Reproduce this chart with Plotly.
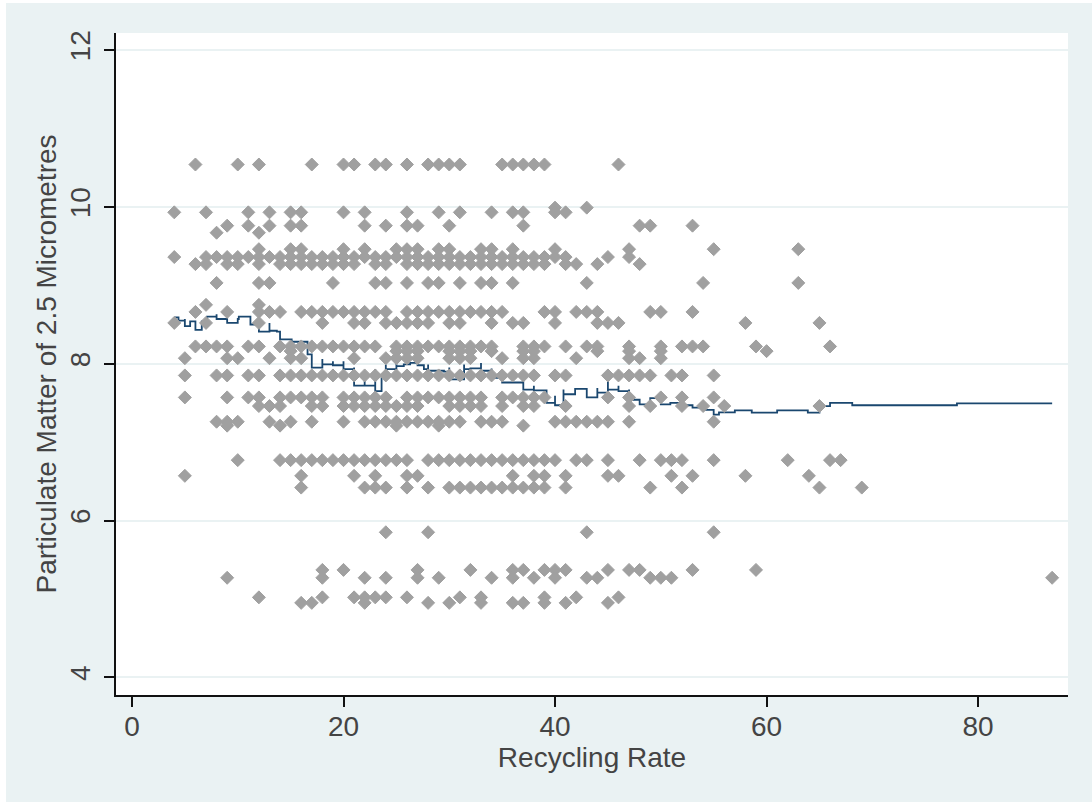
import plotly.graph_objects as go

# ---- data -----------------------------------------------------------------
x_label = "Recycling Rate"
y_label = "Particulate Matter of 2.5 Micrometres"
x_ticks = [0, 20, 40, 60, 80]
y_ticks = [4, 6, 8, 10, 12]

# Recycling rates observed at each level of PM2.5
rows = {
    10.54: [6, 10, 12, 17, 20, 21, 23, 24, 26, 28, 29, 30, 31, 35, 36, 37, 38, 39, 46],
    9.99: [40, 43],
    9.93: [4, 7, 11, 13, 15, 16, 20, 22, 26, 29, 31, 34, 36, 37, 40, 41],
    9.76: [9, 11, 13, 15, 16, 22, 24, 26, 27, 30, 37, 48, 49, 53],
    9.67: [8, 12],
    9.46: [12, 15, 16, 20, 22, 25, 26, 27, 29, 30, 33, 34, 36, 40, 47, 55, 63],
    9.36: [4, 7, 8, 9, 10, 11, 12, 13, 14, 15, 16, 17, 18, 19, 20, 21, 22, 23, 24, 25, 26,
           27, 28, 29, 30, 31, 32, 33, 34, 35, 36, 37, 38, 39, 40, 41, 45, 47],
    9.27: [6, 7, 9, 10, 12, 14, 15, 16, 17, 18, 19, 20, 21, 23, 24, 26, 27, 28, 29, 30, 31,
           32, 33, 34, 35, 36, 37, 38, 39, 41, 42, 44, 48],
    9.03: [8, 12, 13, 19, 23, 24, 26, 28, 29, 31, 33, 34, 36, 43, 54, 63],
    8.75: [7, 12],
    8.66: [6, 9, 12, 13, 14, 16, 17, 18, 19, 20, 21, 22, 23, 24, 26, 27, 28, 29, 30, 31, 32,
           33, 34, 35, 39, 40, 42, 43, 44, 49, 50, 53],
    8.52: [4, 7, 12, 18, 21, 22, 24, 25, 26, 27, 28, 30, 31, 34, 36, 37, 40, 44, 45, 46, 58, 65],
    8.22: [6, 7, 8, 9, 11, 12, 14, 15, 16, 17, 18, 19, 20, 21, 22, 23, 25, 26, 27, 28, 29,
           30, 31, 32, 33, 34, 37, 38, 39, 41, 43, 44, 47, 50, 52, 53, 54, 59, 66],
    8.16: [15, 25, 26, 27, 30, 31, 32, 34, 37, 38, 44, 47, 50, 60],
    8.07: [5, 9, 10, 13, 15, 16, 21, 24, 25, 26, 27, 30, 31, 32, 35, 37, 38, 42, 47, 48, 50],
    7.85: [5, 8, 9, 11, 12, 14, 15, 16, 17, 18, 19, 20, 21, 22, 23, 24, 25, 26, 27, 28, 29,
           30, 31, 32, 33, 34, 35, 36, 37, 38, 40, 41, 45, 46, 47, 48, 49, 51, 52, 55],
    7.57: [5, 9, 11, 12, 14, 15, 16, 17, 18, 20, 21, 22, 23, 24, 26, 27, 28, 29, 30, 31, 32,
           33, 35, 36, 37, 38, 39, 45, 47, 50, 52, 55],
    7.46: [12, 13, 14, 17, 18, 20, 21, 22, 23, 24, 25, 26, 27, 30, 31, 32, 33, 35, 37, 38,
           41, 47, 49, 52, 54, 56, 65],
    7.26: [8, 9, 10, 13, 15, 17, 20, 22, 23, 24, 25, 26, 27, 28, 29, 30, 31, 33, 34, 35, 40,
           41, 42, 43, 44, 45, 47, 55],
    7.21: [9, 14, 25, 29, 37],
    6.77: [10, 14, 15, 16, 17, 18, 19, 20, 21, 22, 23, 24, 25, 26, 28, 29, 30, 31, 32, 33,
           34, 35, 36, 37, 38, 39, 40, 42, 43, 45, 48, 50, 51, 52, 55, 62, 66, 67],
    6.57: [5, 16, 21, 23, 26, 27, 36, 38, 39, 41, 45, 46, 51, 53, 58, 64],
    6.42: [16, 22, 23, 24, 26, 28, 30, 31, 32, 33, 34, 35, 36, 37, 38, 39, 41, 49, 52, 65, 69],
    5.85: [24, 28, 43, 55],
    5.37: [18, 20, 27, 32, 36, 37, 39, 40, 41, 45, 47, 48, 53, 59],
    5.27: [9, 18, 22, 24, 27, 29, 34, 36, 38, 40, 43, 44, 49, 50, 51, 87],
    5.02: [12, 18, 21, 22, 23, 24, 26, 31, 33, 39, 42, 46],
    4.95: [16, 17, 22, 28, 30, 33, 36, 37, 39, 41, 45],
}

# Smoothed (lowess) curve; repeated x values are tied observations
line_x = [4, 4.4, 5, 5, 5.5, 6, 6, 6.6, 7.1, 8, 8, 9, 9, 10, 10.1, 11, 11.2, 12, 12, 13, 13,
          13.7, 14, 14, 15.1, 16.6, 16.6, 17, 17, 18, 18, 19, 19, 20, 20, 21, 21, 21, 22, 22,
          23, 23, 23, 23.6, 24, 24, 24.6, 25, 25, 25.7, 26.3, 27, 27.6, 28, 28, 29.5, 30, 30,
          31.4, 31.4, 32, 33, 33, 34, 34, 35, 36, 37, 37, 38, 38, 39.2, 40, 40, 40.8, 40.8,
          41.9, 43, 43, 44, 44, 45, 45, 46, 46, 47, 47, 48, 48, 49, 50, 50, 50.9, 51.9, 53,
          54, 55, 55.5, 57, 57, 58.3, 58.6, 61, 61, 63.5, 63.9, 65, 66, 68, 68.1, 78, 78, 87]
line_y = [8.59, 8.55, 8.57, 8.48, 8.54, 8.52, 8.43, 8.54, 8.60, 8.63, 8.57, 8.57, 8.52, 8.57,
          8.60, 8.60, 8.50, 8.46, 8.41, 8.52, 8.42, 8.41, 8.40, 8.31, 8.28, 8.18, 8.12, 7.99,
          7.95, 8.06, 7.99, 8.03, 7.98, 8.03, 7.93, 7.95, 7.78, 7.72, 7.78, 7.72, 7.93, 7.76,
          7.65, 7.83, 7.99, 7.93, 7.93, 8.06, 7.97, 7.99, 8.01, 7.98, 7.93, 7.99, 7.91, 7.90,
          7.95, 7.80, 7.99, 7.93, 7.94, 8.01, 7.91, 7.94, 7.82, 7.76, 7.76, 7.80, 7.67, 7.72,
          7.66, 7.50, 7.59, 7.47, 7.67, 7.61, 7.68, 7.67, 7.57, 7.69, 7.63, 7.78, 7.67, 7.72,
          7.65, 7.67, 7.54, 7.54, 7.48, 7.56, 7.54, 7.48, 7.50, 7.47, 7.44, 7.41, 7.35, 7.38,
          7.38, 7.405, 7.405, 7.375, 7.375, 7.405, 7.405, 7.375, 7.46, 7.50, 7.50, 7.47, 7.47,
          7.495, 7.495]

pts_x = [x for level, xs in rows.items() for x in xs]
pts_y = [level for level, xs in rows.items() for _ in xs]

# ---- figure ---------------------------------------------------------------
BG = "#eaf2f3"
font = dict(family="Liberation Sans, Arial, sans-serif", size=28, color="#444444")

fig = go.Figure()
fig.add_trace(go.Scatter(x=line_x, y=line_y, mode="lines",
                         line=dict(color="#1a476f", width=1.8, shape="hv"), hoverinfo="skip"))
fig.add_trace(go.Scatter(x=pts_x, y=pts_y, mode="markers",
                         marker=dict(symbol="diamond", size=10, color="#a0a0a0",
                                     line=dict(width=1, color="#a0a0a0"))))

axis_common = dict(showline=True, linecolor="#111111", linewidth=2, mirror=False,
                   ticks="outside", ticklen=10, tickwidth=1.5, tickcolor="#111111",
                   tickfont=font, zeroline=False)

fig.update_layout(
    width=1086, height=799,
    showlegend=False,
    paper_bgcolor=BG, plot_bgcolor="white",
    margin=dict(l=109.5, r=24, t=29.5, b=107),
    font=font,
    xaxis=dict(axis_common, range=[-1.51, 88.5], tickvals=x_ticks, showgrid=False,
               ticklabelstandoff=-5,
               title=dict(text=x_label, font=font, standoff=2)),
    yaxis=dict(axis_common, range=[3.775, 12.217], tickvals=y_ticks, showgrid=True,
               gridcolor=BG, gridwidth=1.5, tickangle=-90, ticklabelstandoff=3,
               title=dict(text=y_label, font=font, standoff=0)),
)

fig.write_html("out.html",
               post_script="document.body.style.margin='3px 0 0 6px';")
